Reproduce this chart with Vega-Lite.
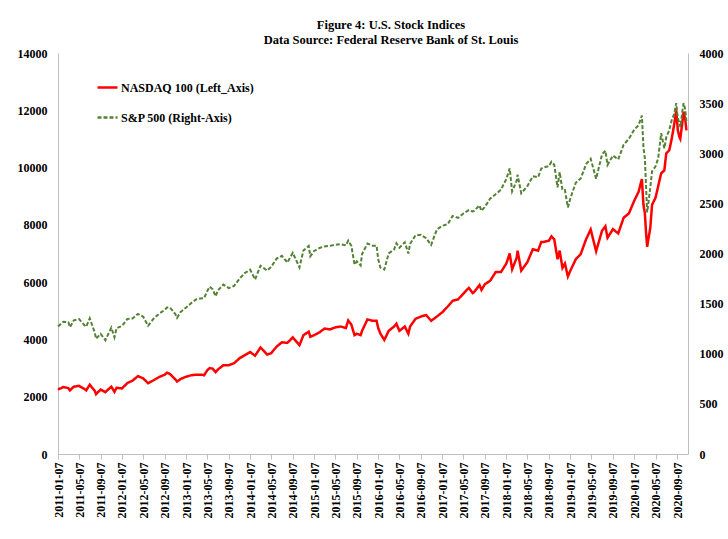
{
  "$schema": "https://vega.github.io/schema/vega-lite/v6.json",
  "width": 630,
  "height": 401,
  "autosize": {"type": "none"},
  "padding": {"left": 58, "top": 53, "right": 40, "bottom": 85},
  "background": "white",
  "title": {
    "text": ["Figure 4: U.S. Stock Indices", "Data Source: Federal Reserve Bank of St. Louis"],
    "font": "Liberation Serif", "fontSize": 12.5, "fontWeight": "bold", "lineHeight": 15,
    "offset": 1, "dx": 18, "anchor": "middle", "color": "black"
  },
  "config": {
    "view": {"stroke": null},
    "legend": {
      "orient": "none", "legendX": 38, "legendY": 23, "title": null,
      "symbolType": "stroke", "symbolSize": 400, "symbolStrokeWidth": 2.5,
      "labelFont": "Liberation Serif", "labelFontSize": 12, "labelFontWeight": "bold",
      "labelColor": "black", "rowPadding": 12, "labelOffset": 2, "padding": 0
    },
    "axis": {
      "labelFont": "Liberation Serif", "labelFontSize": 12, "labelFontWeight": "bold",
      "labelColor": "black", "domainColor": "#bfbfbf", "grid": false, "title": null,
      "labelFlush": false, "labelOverlap": false, "labelBound": false
    }
  },
  "data": {"values": [
    {"d":"2011/01/07","ndx":2250,"spx":1272},
    {"d":"2011/02/07","ndx":2340,"spx":1320},
    {"d":"2011/03/07","ndx":2300,"spx":1315},
    {"d":"2011/03/16","ndx":2220,"spx":1265},
    {"d":"2011/04/07","ndx":2350,"spx":1333},
    {"d":"2011/05/07","ndx":2380,"spx":1345},
    {"d":"2011/06/07","ndx":2270,"spx":1285},
    {"d":"2011/06/17","ndx":2220,"spx":1270},
    {"d":"2011/07/07","ndx":2420,"spx":1353},
    {"d":"2011/08/05","ndx":2200,"spx":1210},
    {"d":"2011/08/12","ndx":2090,"spx":1150},
    {"d":"2011/09/07","ndx":2250,"spx":1198},
    {"d":"2011/10/04","ndx":2160,"spx":1135},
    {"d":"2011/11/07","ndx":2350,"spx":1260},
    {"d":"2011/11/25","ndx":2170,"spx":1165},
    {"d":"2011/12/07","ndx":2310,"spx":1255},
    {"d":"2012/01/07","ndx":2290,"spx":1278},
    {"d":"2012/02/07","ndx":2480,"spx":1347},
    {"d":"2012/03/07","ndx":2560,"spx":1352},
    {"d":"2012/04/07","ndx":2720,"spx":1398},
    {"d":"2012/05/07","ndx":2640,"spx":1369},
    {"d":"2012/06/04","ndx":2470,"spx":1280},
    {"d":"2012/07/07","ndx":2580,"spx":1354},
    {"d":"2012/08/07","ndx":2690,"spx":1401},
    {"d":"2012/09/07","ndx":2770,"spx":1437},
    {"d":"2012/09/19","ndx":2840,"spx":1461},
    {"d":"2012/10/07","ndx":2790,"spx":1460},
    {"d":"2012/11/07","ndx":2600,"spx":1394},
    {"d":"2012/11/16","ndx":2530,"spx":1359},
    {"d":"2012/12/07","ndx":2620,"spx":1418},
    {"d":"2013/01/07","ndx":2700,"spx":1461},
    {"d":"2013/02/07","ndx":2750,"spx":1509},
    {"d":"2013/03/07","ndx":2770,"spx":1544},
    {"d":"2013/04/07","ndx":2770,"spx":1553},
    {"d":"2013/04/19","ndx":2750,"spx":1555},
    {"d":"2013/05/07","ndx":2920,"spx":1625},
    {"d":"2013/05/21","ndx":3000,"spx":1669},
    {"d":"2013/06/07","ndx":2980,"spx":1643},
    {"d":"2013/06/24","ndx":2860,"spx":1573},
    {"d":"2013/07/07","ndx":2950,"spx":1631},
    {"d":"2013/08/07","ndx":3100,"spx":1690},
    {"d":"2013/09/07","ndx":3100,"spx":1655},
    {"d":"2013/10/07","ndx":3170,"spx":1676},
    {"d":"2013/11/07","ndx":3340,"spx":1747},
    {"d":"2013/12/07","ndx":3450,"spx":1805},
    {"d":"2014/01/07","ndx":3560,"spx":1838},
    {"d":"2014/02/04","ndx":3430,"spx":1741},
    {"d":"2014/03/07","ndx":3720,"spx":1878},
    {"d":"2014/04/14","ndx":3470,"spx":1830},
    {"d":"2014/05/07","ndx":3520,"spx":1867},
    {"d":"2014/06/07","ndx":3750,"spx":1949},
    {"d":"2014/07/07","ndx":3900,"spx":1977},
    {"d":"2014/08/07","ndx":3880,"spx":1910},
    {"d":"2014/09/07","ndx":4070,"spx":2007},
    {"d":"2014/10/15","ndx":3800,"spx":1862},
    {"d":"2014/11/07","ndx":4150,"spx":2031},
    {"d":"2014/12/07","ndx":4270,"spx":2075},
    {"d":"2014/12/16","ndx":4090,"spx":1972},
    {"d":"2015/01/07","ndx":4150,"spx":2025},
    {"d":"2015/02/07","ndx":4250,"spx":2055},
    {"d":"2015/03/07","ndx":4380,"spx":2071},
    {"d":"2015/04/07","ndx":4350,"spx":2076},
    {"d":"2015/05/07","ndx":4420,"spx":2088},
    {"d":"2015/06/07","ndx":4450,"spx":2092},
    {"d":"2015/07/07","ndx":4400,"spx":2081},
    {"d":"2015/07/20","ndx":4660,"spx":2128},
    {"d":"2015/08/07","ndx":4520,"spx":2077},
    {"d":"2015/08/25","ndx":4150,"spx":1890},
    {"d":"2015/09/07","ndx":4200,"spx":1921},
    {"d":"2015/09/29","ndx":4150,"spx":1881},
    {"d":"2015/10/07","ndx":4300,"spx":1995},
    {"d":"2015/11/07","ndx":4700,"spx":2099},
    {"d":"2015/12/07","ndx":4650,"spx":2077},
    {"d":"2015/12/29","ndx":4650,"spx":2078},
    {"d":"2016/01/07","ndx":4400,"spx":1944},
    {"d":"2016/01/20","ndx":4200,"spx":1859},
    {"d":"2016/02/11","ndx":3980,"spx":1840},
    {"d":"2016/03/07","ndx":4300,"spx":2001},
    {"d":"2016/04/07","ndx":4450,"spx":2041},
    {"d":"2016/04/20","ndx":4550,"spx":2102},
    {"d":"2016/05/07","ndx":4300,"spx":2057},
    {"d":"2016/06/07","ndx":4450,"spx":2112},
    {"d":"2016/06/27","ndx":4200,"spx":2000},
    {"d":"2016/07/07","ndx":4450,"spx":2097},
    {"d":"2016/08/07","ndx":4720,"spx":2182},
    {"d":"2016/09/07","ndx":4800,"spx":2186},
    {"d":"2016/10/07","ndx":4850,"spx":2153},
    {"d":"2016/11/04","ndx":4650,"spx":2085},
    {"d":"2016/12/07","ndx":4800,"spx":2241},
    {"d":"2017/01/07","ndx":4950,"spx":2277},
    {"d":"2017/02/07","ndx":5150,"spx":2293},
    {"d":"2017/03/07","ndx":5350,"spx":2375},
    {"d":"2017/04/07","ndx":5400,"spx":2355},
    {"d":"2017/05/07","ndx":5600,"spx":2399},
    {"d":"2017/06/07","ndx":5800,"spx":2433},
    {"d":"2017/06/29","ndx":5620,"spx":2419},
    {"d":"2017/07/07","ndx":5650,"spx":2425},
    {"d":"2017/08/07","ndx":5900,"spx":2480},
    {"d":"2017/08/18","ndx":5730,"spx":2425},
    {"d":"2017/09/07","ndx":5930,"spx":2465},
    {"d":"2017/10/07","ndx":6050,"spx":2549},
    {"d":"2017/11/07","ndx":6350,"spx":2591},
    {"d":"2017/12/07","ndx":6350,"spx":2636},
    {"d":"2018/01/07","ndx":6650,"spx":2743},
    {"d":"2018/01/26","ndx":7000,"spx":2850},
    {"d":"2018/02/09","ndx":6450,"spx":2620},
    {"d":"2018/03/07","ndx":6850,"spx":2726},
    {"d":"2018/03/12","ndx":7100,"spx":2786},
    {"d":"2018/04/02","ndx":6400,"spx":2600},
    {"d":"2018/05/07","ndx":6700,"spx":2672},
    {"d":"2018/06/07","ndx":7150,"spx":2770},
    {"d":"2018/07/07","ndx":7100,"spx":2760},
    {"d":"2018/07/25","ndx":7400,"spx":2846},
    {"d":"2018/08/07","ndx":7400,"spx":2858},
    {"d":"2018/09/07","ndx":7450,"spx":2872},
    {"d":"2018/09/21","ndx":7600,"spx":2915},
    {"d":"2018/10/07","ndx":7500,"spx":2885},
    {"d":"2018/10/26","ndx":6800,"spx":2660},
    {"d":"2018/11/07","ndx":7100,"spx":2813},
    {"d":"2018/11/23","ndx":6500,"spx":2633},
    {"d":"2018/12/07","ndx":6650,"spx":2633},
    {"d":"2018/12/24","ndx":6200,"spx":2460},
    {"d":"2019/01/07","ndx":6400,"spx":2550},
    {"d":"2019/02/07","ndx":6800,"spx":2706},
    {"d":"2019/03/07","ndx":6980,"spx":2748},
    {"d":"2019/04/07","ndx":7500,"spx":2892},
    {"d":"2019/05/03","ndx":7840,"spx":2945},
    {"d":"2019/06/03","ndx":7080,"spx":2745},
    {"d":"2019/07/07","ndx":7800,"spx":2990},
    {"d":"2019/07/26","ndx":7950,"spx":3025},
    {"d":"2019/08/07","ndx":7550,"spx":2883},
    {"d":"2019/09/07","ndx":7850,"spx":2978},
    {"d":"2019/10/07","ndx":7700,"spx":2938},
    {"d":"2019/11/07","ndx":8250,"spx":3085},
    {"d":"2019/12/07","ndx":8400,"spx":3145},
    {"d":"2020/01/07","ndx":8850,"spx":3237},
    {"d":"2020/01/31","ndx":9150,"spx":3280},
    {"d":"2020/02/19","ndx":9600,"spx":3375},
    {"d":"2020/02/28","ndx":8700,"spx":3060},
    {"d":"2020/03/07","ndx":8400,"spx":2950},
    {"d":"2020/03/13","ndx":7800,"spx":2700},
    {"d":"2020/03/20","ndx":7230,"spx":2410},
    {"d":"2020/03/27","ndx":7500,"spx":2500},
    {"d":"2020/04/07","ndx":7900,"spx":2660},
    {"d":"2020/04/17","ndx":8700,"spx":2820},
    {"d":"2020/05/07","ndx":8950,"spx":2870},
    {"d":"2020/05/22","ndx":9350,"spx":2950},
    {"d":"2020/06/08","ndx":9800,"spx":3200},
    {"d":"2020/06/26","ndx":9900,"spx":3050},
    {"d":"2020/07/07","ndx":10500,"spx":3160},
    {"d":"2020/07/24","ndx":10600,"spx":3230},
    {"d":"2020/08/07","ndx":11000,"spx":3330},
    {"d":"2020/08/21","ndx":11500,"spx":3390},
    {"d":"2020/09/02","ndx":12000,"spx":3500},
    {"d":"2020/09/11","ndx":11300,"spx":3350},
    {"d":"2020/09/21","ndx":11050,"spx":3300},
    {"d":"2020/09/25","ndx":11000,"spx":3260},
    {"d":"2020/10/07","ndx":11600,"spx":3420},
    {"d":"2020/10/14","ndx":11950,"spx":3500},
    {"d":"2020/10/23","ndx":11700,"spx":3440},
    {"d":"2020/10/30","ndx":11300,"spx":3320}
  ]},
  "encoding": {
    "x": {
      "field": "d", "type": "temporal",
      "scale": {"domain": [{"year": 2011, "month": 1, "date": 7}, {"year": 2020, "month": 11, "date": 8}]},
      "axis": {
        "values": [
          {"year":2011,"month":1,"date":7},{"year":2011,"month":5,"date":7},{"year":2011,"month":9,"date":7},
          {"year":2012,"month":1,"date":7},{"year":2012,"month":5,"date":7},{"year":2012,"month":9,"date":7},
          {"year":2013,"month":1,"date":7},{"year":2013,"month":5,"date":7},{"year":2013,"month":9,"date":7},
          {"year":2014,"month":1,"date":7},{"year":2014,"month":5,"date":7},{"year":2014,"month":9,"date":7},
          {"year":2015,"month":1,"date":7},{"year":2015,"month":5,"date":7},{"year":2015,"month":9,"date":7},
          {"year":2016,"month":1,"date":7},{"year":2016,"month":5,"date":7},{"year":2016,"month":9,"date":7},
          {"year":2017,"month":1,"date":7},{"year":2017,"month":5,"date":7},{"year":2017,"month":9,"date":7},
          {"year":2018,"month":1,"date":7},{"year":2018,"month":5,"date":7},{"year":2018,"month":9,"date":7},
          {"year":2019,"month":1,"date":7},{"year":2019,"month":5,"date":7},{"year":2019,"month":9,"date":7},
          {"year":2020,"month":1,"date":7},{"year":2020,"month":5,"date":7},{"year":2020,"month":9,"date":7}
        ],
        "format": "%Y-%m-%d", "labelAngle": -90, "tickColor": "#bfbfbf", "tickSize": 5, "labelPadding": 3
      }
    }
  },
  "layer": [
    {
      "mark": {"type": "line", "strokeWidth": 2.5},
      "encoding": {
        "y": {"field": "ndx", "type": "quantitative", "scale": {"domain": [0, 14000]},
              "axis": {"orient": "left", "values": [0,2000,4000,6000,8000,10000,12000,14000], "format": "d", "ticks": false, "tickSize": 0, "labelPadding": 11}},
        "color": {"datum": "NASDAQ 100 (Left_Axis)",
                  "scale": {"domain": ["NASDAQ 100 (Left_Axis)", "S&P 500 (Right-Axis)"], "range": ["#ff0000", "#548235"]}},
        "strokeDash": {"datum": "NASDAQ 100 (Left_Axis)",
                  "scale": {"domain": ["NASDAQ 100 (Left_Axis)", "S&P 500 (Right-Axis)"], "range": [[1, 0], [4, 2]]}}
      }
    },
    {
      "mark": {"type": "line", "strokeWidth": 2},
      "encoding": {
        "y": {"field": "spx", "type": "quantitative", "scale": {"domain": [0, 4000]},
              "axis": {"orient": "right", "values": [0,500,1000,1500,2000,2500,3000,3500,4000], "format": "d", "ticks": false, "tickSize": 0, "labelPadding": 11}},
        "color": {"datum": "S&P 500 (Right-Axis)"},
        "strokeDash": {"datum": "S&P 500 (Right-Axis)"}
      }
    }
  ],
  "resolve": {"scale": {"y": "independent"}}
}
